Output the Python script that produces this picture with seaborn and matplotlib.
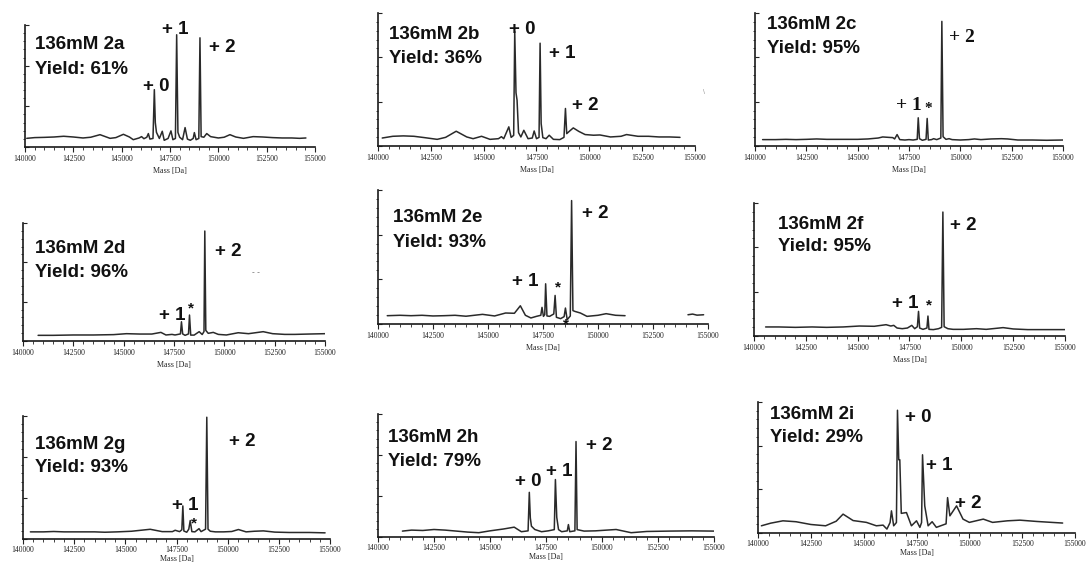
import matplotlib
matplotlib.use('Agg')
import matplotlib.pyplot as plt
import seaborn as sns
from matplotlib.ticker import MultipleLocator

sns.set_style('ticks')
plt.rcParams['font.family'] = ['Liberation Sans', 'DejaVu Sans']

# --- data (mass in Da, intensity in % of axis height) ---
panel_ids = ['2a', '2b', '2c', '2d', '2e', '2f', '2g', '2h', '2i']
yields = [61, 36, 95, 96, 93, 95, 93, 79, 29]
conc = '136mM'
x_ticks = [140000, 142500, 145000, 147500, 150000, 152500, 155000]

mass_a = [140090, 140500, 141000, 141500, 142000, 142500, 143000, 143400, 143880, 144400, 144700, 145090,
          145400, 145600, 145900, 146030, 146150, 146300, 146380, 146460, 146620, 146690, 146740, 146800,
          146950, 147100, 147200, 147400, 147550, 147650, 147780, 147845, 147910, 148000, 148150, 148280,
          148400, 148550, 148700, 148760, 148850, 148990, 149050, 149110, 149250, 149400, 149600, 150000,
          150300, 150600, 150900, 151300, 151800, 152300, 152800, 153300, 153800, 154200, 154530]
inten_a = [7.1, 7.7, 7.9, 8.2, 8.8, 8.2, 7.4, 8.0, 10.1, 7.1, 7.7, 10.4,
           8.2, 6.0, 7.4, 8.5, 6.8, 8.0, 11.0, 6.5, 7.0, 47.0, 20.0, 12.0,
           7.0, 12.9, 5.5, 7.0, 13.2, 6.0, 7.0, 92.0, 12.0, 8.0, 6.0, 15.9,
           6.5, 5.5, 7.0, 11.8, 6.0, 7.0, 89.5, 8.5, 8.0, 11.0, 8.5, 7.4,
           8.0, 10.1, 8.2, 7.1, 8.5, 8.2, 7.7, 7.4, 7.4, 7.1, 7.4]

mass_b = [140200, 140700, 141200, 141700, 142200, 142800, 143200, 143700, 144200, 144500, 144900, 145300,
          145700, 145840, 145950, 146190, 146300, 146420, 146470, 146530, 146580, 146650, 146760, 146900,
          147100, 147300, 147390, 147500, 147620, 147670, 147720, 147800, 147950, 148100, 148300, 148600,
          148800, 148870, 148930, 149050, 149240, 149500, 149800, 150200, 150500, 151000, 151500, 151760,
          152300, 152800, 153300, 153800, 154290]
inten_b = [6.0, 7.3, 7.6, 7.3, 6.3, 5.0, 6.5, 11.1, 6.8, 5.5, 7.3, 5.0,
           5.5, 7.0, 5.5, 14.4, 6.5, 8.0, 86.1, 40.0, 34.5, 10.0, 6.8, 11.8,
           5.5, 6.0, 11.3, 5.5, 6.5, 77.3, 16.9, 6.3, 5.5, 8.1, 5.0, 4.8,
           6.5, 28.2, 9.3, 11.0, 13.6, 11.0, 8.6, 8.1, 8.3, 6.8, 7.3, 8.6,
           7.3, 7.3, 6.8, 6.8, 6.5]

mass_c = [140370, 141000, 141500, 142000, 142500, 143000, 143500, 144000, 144500, 145000, 145500, 146000,
          146220, 146500, 146710, 146800, 146920, 147050, 147300, 147500, 147700, 147900, 147950, 148010,
          148150, 148330, 148385, 148440, 148600, 148700, 148850, 149050, 149100, 149160, 149300, 149450,
          149600, 150000, 150400, 150690, 151000, 151500, 152000, 152300, 152800, 153500, 154200, 155000]
inten_c = [4.8, 4.8, 5.0, 4.8, 5.0, 5.3, 5.0, 5.0, 5.0, 5.0, 5.3, 6.0,
           6.8, 6.5, 6.3, 5.3, 8.6, 4.8, 4.5, 4.8, 4.5, 5.0, 21.2, 5.5,
           4.3, 5.0, 20.7, 4.5, 4.8, 5.5, 4.8, 6.0, 93.7, 7.0, 5.0, 5.5,
           4.8, 4.5, 4.8, 5.3, 4.8, 5.3, 5.5, 5.3, 4.5, 4.5, 4.3, 4.5]

mass_d = [140750, 141500, 142500, 143500, 144500, 145140, 145800, 146400, 146850, 147100, 147400, 147550,
          147820, 147870, 147930, 148050, 148220, 148270, 148330, 148500, 148750, 148900, 148990, 149030,
          149080, 149200, 149450, 149700, 150100, 150690, 151200, 151930, 152400, 153000, 153500, 154200,
          155000]
inten_d = [4.8, 4.8, 5.1, 5.1, 5.4, 6.2, 5.9, 5.9, 7.3, 5.1, 5.6, 5.1,
           6.0, 16.3, 6.0, 4.8, 6.0, 22.0, 5.0, 5.0, 7.9, 5.5, 8.0, 93.2,
           9.0, 6.5, 7.3, 5.6, 5.1, 7.0, 6.2, 7.9, 6.2, 5.6, 5.6, 5.9,
           6.2]

mass_e = [140420, 141000, 141500, 142000, 142500, 143000, 143500, 144000, 144750, 145300, 145800, 146200,
          146470, 146700, 146950, 147200, 147400, 147455, 147520, 147580, 147620, 147680, 147800, 147990,
          148050, 148110, 148300, 148460, 148520, 148600, 148740, 148800, 148860, 148950, 149200, 149500,
          150000, 150370, 150800, 151230]
inten_e = [6.2, 6.5, 6.2, 6.5, 6.0, 6.2, 6.5, 5.8, 7.2, 6.0, 8.2, 8.0,
           13.6, 6.5, 4.5, 5.7, 6.5, 12.4, 5.7, 7.0, 30.0, 6.0, 5.7, 7.5,
           21.3, 5.0, 4.0, 5.5, 11.9, 3.2, 6.0, 92.1, 10.0, 9.4, 8.2, 5.7,
           6.5, 7.7, 6.5, 6.2]
mass_e_tail = [154090, 154300, 154500, 154800]
inten_e_tail = [6.9, 7.4, 6.6, 6.9]

mass_f = [140560, 141200, 142000, 142800, 143500, 144300, 145080, 145800, 146370, 146600, 146740, 146900,
          147150, 147400, 147610, 147750, 147880, 147935, 147990, 148150, 148340, 148390, 148440, 148650,
          148900, 149050, 149110, 149170, 149350, 149600, 150100, 150730, 151200, 152015, 152500, 153200,
          154000, 155000]
inten_f = [6.8, 6.8, 6.5, 6.8, 6.5, 6.8, 7.5, 7.3, 8.5, 7.5, 8.0, 6.0,
           5.5, 6.0, 8.0, 5.5, 7.0, 18.5, 6.0, 5.0, 6.0, 15.0, 5.0, 4.8,
           5.5, 6.5, 93.2, 7.0, 5.5, 5.0, 5.0, 5.5, 5.0, 6.3, 5.3, 4.8,
           4.8, 4.8]

mass_g = [140360, 141000, 141500, 142000, 142500, 143000, 143500, 144000, 144600, 145300, 146215, 146800,
          147300, 147435, 147650, 147760, 147810, 147860, 148000, 148100, 148170, 148250, 148400, 148600,
          148700, 148920, 148980, 149040, 149150, 149400, 149800, 150200, 150525, 150900, 151300, 151745,
          152300, 153000, 154000, 154760]
inten_g = [5.8, 5.8, 6.1, 5.8, 5.8, 5.8, 5.8, 5.5, 5.8, 6.3, 7.9, 6.0,
           6.0, 7.1, 6.0, 7.5, 26.9, 6.5, 5.5, 8.0, 15.0, 6.0, 5.8, 8.4,
           6.0, 8.0, 99.0, 8.0, 6.3, 5.8, 5.8, 6.1, 7.7, 5.8, 6.3, 6.6,
           5.6, 5.3, 5.3, 5.0]

mass_h = [141090, 141500, 142000, 142500, 143000, 143500, 144000, 144500, 145000, 145600, 146080, 146400,
          146700, 146755, 146800, 146850, 147000, 147300, 147600, 147870, 147920, 147980, 148060, 148200,
          148450, 148500, 148560, 148790, 148840, 148890, 149200, 149700, 150630, 151300, 152000, 153000,
          154000, 155000]
inten_h = [4.8, 5.6, 5.3, 6.1, 5.6, 4.8, 4.0, 3.5, 5.0, 6.5, 8.0, 4.3,
           5.0, 36.3, 15.5, 8.8, 6.1, 4.3, 5.0, 6.0, 46.7, 16.0, 6.0, 4.3,
           5.0, 10.1, 4.3, 5.0, 77.6, 6.0, 4.8, 5.0, 6.1, 3.5, 4.5, 4.8,
           5.0, 4.8]

mass_i = [140160, 140600, 141180, 141800, 142500, 143200, 143700, 144025, 144500, 145130, 145600, 145920,
          146100, 146250, 146315, 146420, 146550, 146600, 146660, 146710, 146780, 147025, 147260, 147500,
          147660, 147740, 147785, 147890, 148050, 148240, 148440, 148900, 148970, 149080, 149395, 149700,
          150000, 150660, 151100, 151800, 152395, 153200, 154000, 154415]
inten_i = [5.5, 7.5, 9.3, 8.6, 6.5, 5.5, 9.0, 14.4, 9.5, 8.1, 5.5, 6.0,
           3.0, 8.0, 16.9, 5.5, 8.0, 93.7, 55.9, 55.9, 15.0, 15.6, 5.5, 9.3,
           4.3, 8.0, 59.7, 20.7, 5.5, 8.6, 4.3, 7.0, 27.0, 13.1, 20.7, 10.6,
           8.1, 10.6, 8.1, 9.3, 9.8, 8.8, 8.0, 7.6]

spectra = {
    '2a': [(mass_a, inten_a)], '2b': [(mass_b, inten_b)], '2c': [(mass_c, inten_c)],
    '2d': [(mass_d, inten_d)], '2e': [(mass_e, inten_e), (mass_e_tail, inten_e_tail)],
    '2f': [(mass_f, inten_f)], '2g': [(mass_g, inten_g)], '2h': [(mass_h, inten_h)],
    '2i': [(mass_i, inten_i)],
}

# --- layout (pixel positions in the 1087x564 picture) ---
W, H = 1087, 564
rects = {  # left, right, top, bottom of the plotting area
    '2a': (25, 315, 25, 147), '2b': (378, 695, 13, 146), '2c': (755, 1063, 13, 146),
    '2d': (23, 325, 223, 341), '2e': (378, 708, 190, 324), '2f': (754, 1065, 203, 336),
    '2g': (23, 330, 416, 539), '2h': (378, 714, 414, 537), '2i': (758, 1075, 402, 533),
}
bottom_row = ['2g', '2h', '2i']
title_pos = {  # x, baseline of first line, baseline of second line
    '2a': (35, 49, 74), '2b': (389, 39, 63), '2c': (767, 29, 53),
    '2d': (35, 253, 277), '2e': (393, 222, 247), '2f': (778, 229, 251),
    '2g': (35, 449, 472), '2h': (388, 442, 466), '2i': (770, 419, 442),
}
peak_labels = {
    '2a': [('+ 0', 156, 86), ('+ 1', 175, 30), ('+ 2', 222, 47)],
    '2b': [('+ 0', 522, 30), ('+ 1', 562, 53), ('+ 2', 585, 105)],
    '2c': [('+ 1', 909, 106), ('*', 928, 109), ('+ 2', 962, 38)],
    '2d': [('+ 1', 172, 315), ('*', 191, 308), ('+ 2', 228, 252)],
    '2e': [('+ 1', 525, 282), ('*', 558, 287), ('*', 566, 324), ('+ 2', 595, 214)],
    '2f': [('+ 1', 905, 303), ('*', 929, 305), ('+ 2', 963, 225)],
    '2g': [('+ 1', 185, 505), ('*', 194, 523), ('+ 2', 242, 442)],
    '2h': [('+ 0', 528, 482), ('+ 1', 559, 471), ('+ 2', 599, 446)],
    '2i': [('+ 0', 918, 417), ('+ 1', 939, 466), ('+ 2', 968, 504)],
}
serif_labels = ['2c']

fig = plt.figure(figsize=(W / 100, H / 100), dpi=100)
fig.patch.set_facecolor('white')

def fx(x):
    return x / W

def fy(y):
    return 1 - y / H

for pid, yld in zip(panel_ids, yields):
    l, r, t, b = rects[pid]
    ax = fig.add_axes([fx(l), fy(b), (r - l) / W, (b - t) / H])
    for m, v in spectra[pid]:
        sns.lineplot(x=m, y=v, ax=ax, color='#2a2a2a', lw=1.1, estimator=None)
    ax.set_xlim(140000, 155000)
    ax.set_ylim(0, 100)
    ax.set_xticks(x_ticks)
    ax.set_xticklabels([str(v) for v in x_ticks], family=['Liberation Serif', 'DejaVu Serif'], fontsize=5.5)
    ax.xaxis.set_minor_locator(MultipleLocator(500))
    ax.set_yticks([0, 100 / 3, 200 / 3, 100])
    ax.set_yticklabels([])
    ax.yaxis.set_minor_locator(MultipleLocator(100 / 15))
    low = pid in bottom_row
    ax.tick_params(axis='x', which='major', length=3.5, width=0.8, pad=1.5 if low else 2, colors='#222')
    ax.tick_params(axis='x', which='minor', length=2, width=0.6, colors='#222')
    ax.tick_params(axis='y', which='major', direction='in', length=3, width=0.8, colors='#222')
    ax.tick_params(axis='y', which='minor', direction='out', length=1.8, width=0.6, colors='#222')
    ax.set_xlabel('Mass [Da]', family=['Liberation Serif', 'DejaVu Serif'], fontsize=5.8,
                  labelpad=0.5 if low else 3)
    ax.set_ylabel('')
    sns.despine(ax=ax)
    for s in ['left', 'bottom']:
        ax.spines[s].set_linewidth(1.2)
        ax.spines[s].set_color('#1a1a1a')
    ax.patch.set_alpha(0)

    tx, y1, y2 = title_pos[pid]
    fig.text(fx(tx), fy(y1), f'{conc} {pid}', fontsize=13.5, weight='bold', color='#111', va='baseline')
    fig.text(fx(tx), fy(y2), f'Yield: {yld}%', fontsize=13.5, weight='bold', color='#111', va='baseline')

    for txt, px, py in peak_labels[pid]:
        if pid in serif_labels:
            fam = ['Liberation Serif', 'DejaVu Serif']
            fs = 14 if txt != '*' else 11
        else:
            fam = ['Liberation Sans', 'DejaVu Sans']
            fs = 13.5 if txt != '*' else 11
        fig.text(fx(px), fy(py), txt, fontsize=fs, weight='bold', family=fam, color='#111',
                 ha='center', va='center')

# small stray marks present in the source figure
fig.text(fx(256), fy(273), '- -', fontsize=6, color='#555', ha='center', va='center')
fig.text(fx(704), fy(93), '\\', fontsize=5, color='#999', ha='center', va='center')

fig.savefig('out.png', dpi=100, facecolor='white')
